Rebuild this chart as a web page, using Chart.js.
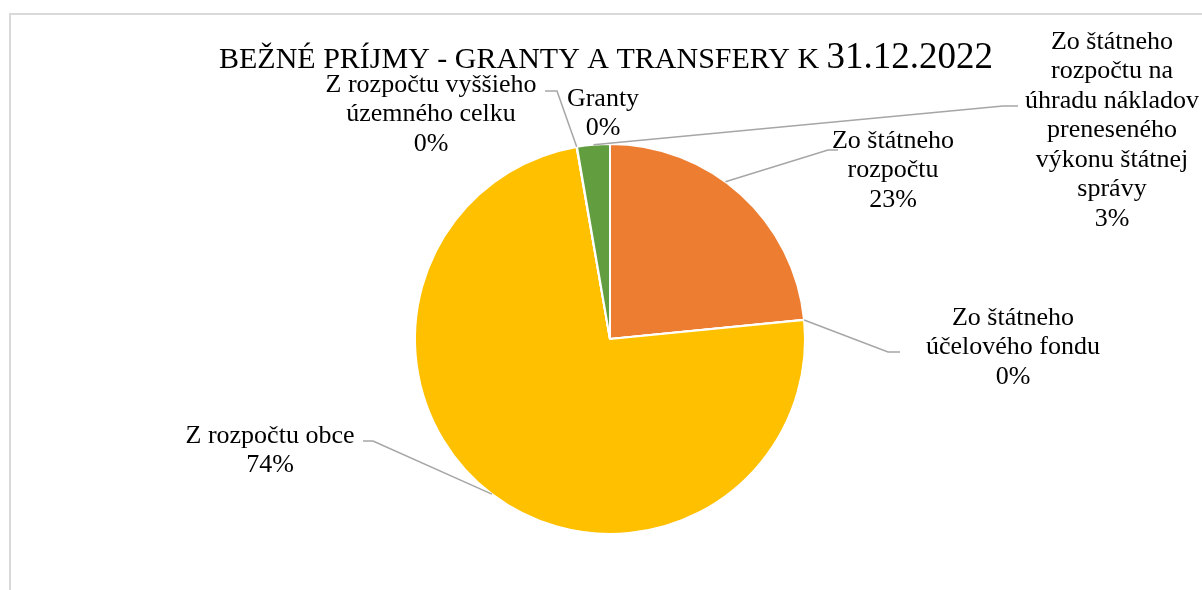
<!DOCTYPE html>
<html>
<head>
<meta charset="utf-8">
<script src="https://cdn.jsdelivr.net/npm/chart.js@4/dist/chart.umd.min.js"></script>
<style>
  html, body { margin: 0; padding: 0; background: #fff; }
  #pieChart { display: block; }
</style>
</head>
<body>
<canvas id="pieChart" width="1202" height="590"></canvas>
<script>
// Categories (already split into the lines shown on the chart)
const categories = [
  ['Zo štátneho', 'rozpočtu'],
  ['Zo štátneho', 'účelového fondu'],
  ['Z rozpočtu obce'],
  ['Z rozpočtu vyššieho', 'územného celku'],
  ['Granty'],
  ['Zo štátneho', 'rozpočtu na', 'úhradu nákladov', 'preneseného', 'výkonu štátnej', 'správy']
];
// Share of the total (percent)
const values = [23.4, 0.02, 73.7, 0.02, 0.02, 2.7];
const sliceColors = ['#ED7D31', '#A5A5A5', '#FFC000', '#4472C4', '#5B9BD5', '#629D40'];

const titleWords = 'BEŽNÉ PRÍJMY - GRANTY A TRANSFERY K ';
const titleDate = '31.12.2022';

// where each data label sits (centre x, first line y) and its leader line
// attach = position along the slice arc where the leader meets it (0..1)
const labelLayout = [
  { x: 893, y: 141, attach: 0.43, elbow: [828, 150], end: [838, 150] },
  { x: 1013, y: 318, attach: 0.5, elbow: [888, 352], end: [900, 352] },
  { x: 270, y: 436, attach: 0.5, elbow: [373, 441], end: [363, 441] },
  { x: 431, y: 85, attach: 0.5, elbow: [557, 91], end: [545, 91] },
  { x: 603, y: 99, attach: 0.5, elbow: null, end: null },
  { x: 1112, y: 42, attach: 0.5, elbow: [1003, 106], end: [1018, 106] }
];

const frameAndTitle = {
  id: 'frameAndTitle',
  beforeDraw(chart) {
    const ctx = chart.ctx;
    ctx.save();
    ctx.fillStyle = '#fff';
    ctx.fillRect(0, 0, chart.width, chart.height);
    ctx.strokeStyle = '#D9D9D9';
    ctx.lineWidth = 2;
    ctx.strokeRect(10, 14, chart.width + 20, chart.height + 20);

    // title: words in one size, the date a bit bigger
    ctx.fillStyle = '#000';
    ctx.textBaseline = 'alphabetic';
    ctx.textAlign = 'left';
    ctx.font = '30px "Liberation Serif"';
    const wordsW = ctx.measureText(titleWords).width;
    ctx.fillText(titleWords, 219, 68);
    ctx.font = '37px "Liberation Serif"';
    ctx.fillText(titleDate, 219 + wordsW, 68);
    ctx.restore();
  }
};

const pieLabels = {
  id: 'pieLabels',
  afterDatasetsDraw(chart) {
    const ctx = chart.ctx;
    const arcs = chart.getDatasetMeta(0).data;
    const total = values.reduce((a, b) => a + b, 0);
    ctx.save();
    // leader lines
    ctx.strokeStyle = '#A6A6A6';
    ctx.lineWidth = 1.5;
    arcs.forEach((arc, i) => {
      const lay = labelLayout[i];
      if (!lay.elbow) return;
      const ang = arc.startAngle + (arc.endAngle - arc.startAngle) * lay.attach;
      const px = arc.x + Math.cos(ang) * arc.outerRadius;
      const py = arc.y + Math.sin(ang) * arc.outerRadius;
      ctx.beginPath();
      ctx.moveTo(px, py);
      ctx.lineTo(lay.elbow[0], lay.elbow[1]);
      ctx.lineTo(lay.end[0], lay.end[1]);
      ctx.stroke();
    });
    // texts
    ctx.fillStyle = '#000';
    ctx.font = '26px "Liberation Serif"';
    ctx.textAlign = 'center';
    ctx.textBaseline = 'middle';
    categories.forEach((lines, i) => {
      const lay = labelLayout[i];
      const pct = Math.round(values[i] / total * 100) + '%';
      lines.concat([pct]).forEach((t, k) => {
        ctx.fillText(t, lay.x, lay.y + k * 29.5);
      });
    });
    ctx.restore();
  }
};

const ctx = document.getElementById('pieChart').getContext('2d');
const pieChart = new Chart(ctx, {
  type: 'pie',
  data: {
    labels: categories.map(c => c.join(' ')),
    datasets: [{
      data: values,
      backgroundColor: sliceColors,
      borderColor: '#fff',
      borderWidth: 2
    }]
  },
  options: {
    responsive: false,
    animation: false,
    devicePixelRatio: 1,
    layout: { padding: { left: 414, right: 396, top: 143, bottom: 55 } },
    plugins: {
      legend: { display: false },
      title: { display: false },
      tooltip: { enabled: false }
    }
  },
  plugins: [frameAndTitle, pieLabels]
});
</script>
</body>
</html>
